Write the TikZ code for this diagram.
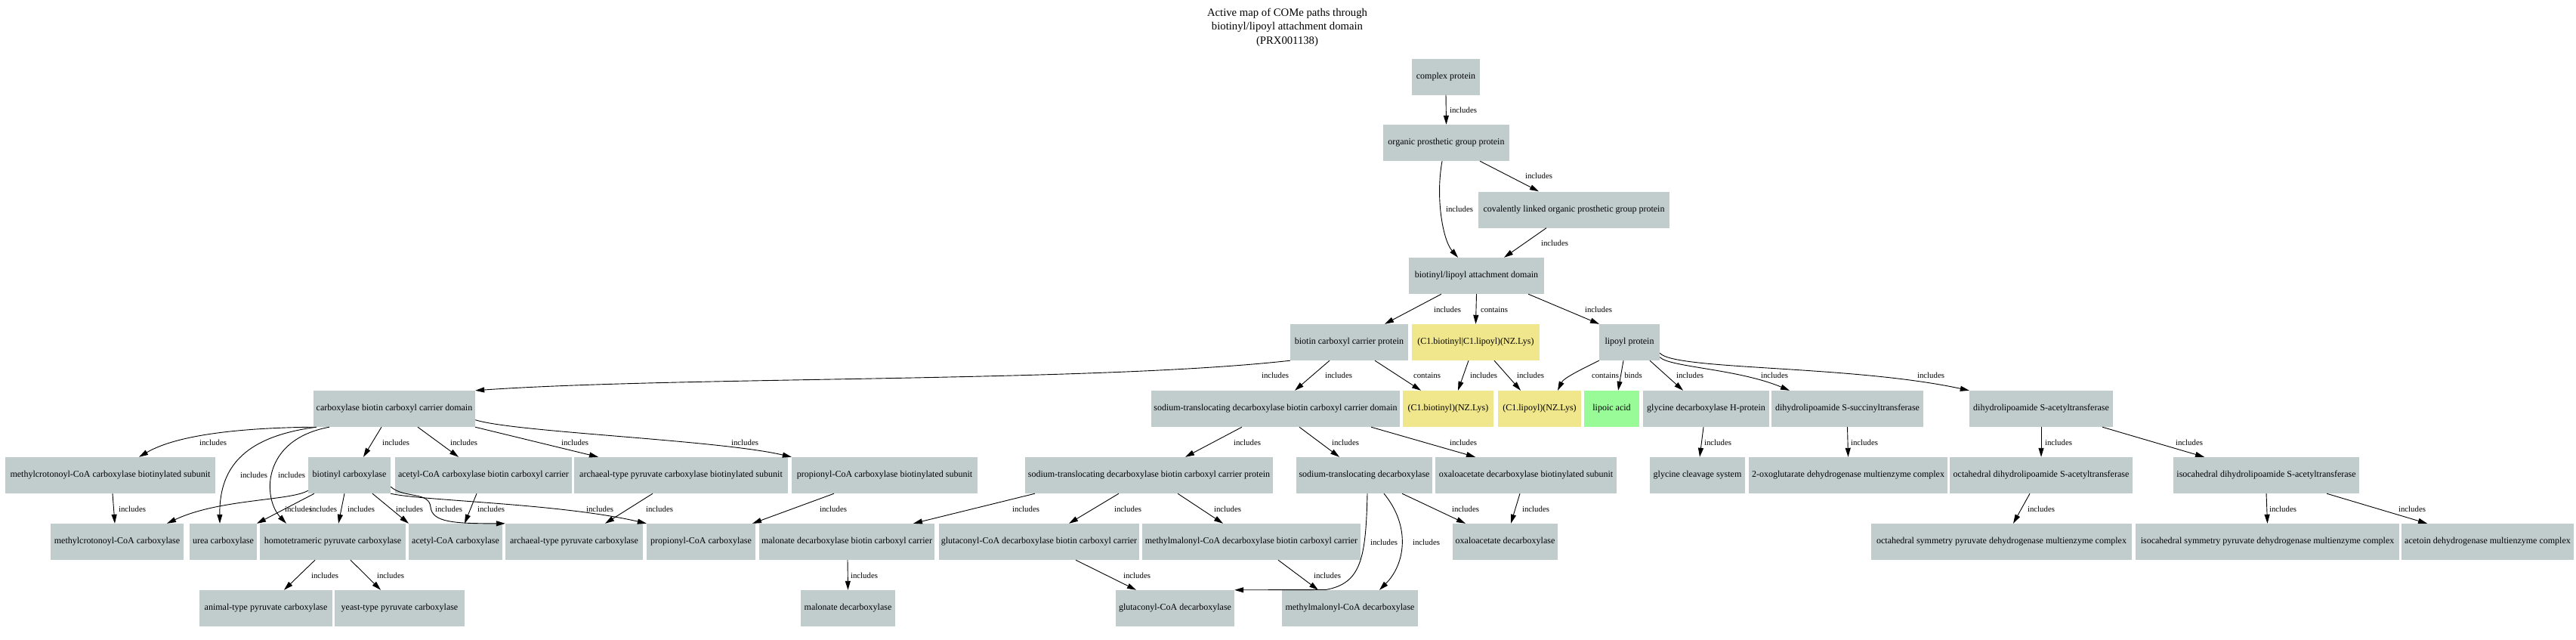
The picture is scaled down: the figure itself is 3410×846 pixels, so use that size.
\documentclass[tikz,border=0pt]{standalone}
\usepackage{fontspec}
\setmainfont{Liberation Serif}
\usetikzlibrary{arrows.meta}
\definecolor{boxgrey}{HTML}{C1CDCD}
\definecolor{boxkhaki}{HTML}{F0E68C}
\definecolor{boxgreen}{HTML}{98FB98}
\newcounter{labc}
\newcommand\nd[6][boxgrey]{\node[nbox,fill=#1,minimum width=#5pt] (#2) at (#3,#4) {#6};}
\newcommand\ed[7]{%
  \draw[edge] ([xshift=#2pt]#1.south) -- ([xshift=#4pt]#3.north);
  \stepcounter{labc}\node[lab] (lab\arabic{labc}) at (#6,#7) {#5};}
\newcommand\lb[3]{\stepcounter{labc}\node[lab] (lab\arabic{labc}) at (#2,#3) {#1};}
\begin{document}
\begin{tikzpicture}[x=1pt,y=-1pt,
  nbox/.style={draw=none,rectangle,minimum height=48pt,inner xsep=2pt,inner ysep=0pt,font=\fontsize{12}{14}\selectfont},
  edge/.style={draw=black,line width=0.9pt,-{Triangle[length=12pt,width=7pt]}},
  lab/.style={inner sep=0pt,font=\fontsize{10.8}{12}\selectfont},
  ttl/.style={align=center,inner sep=0pt,font=\fontsize{14.7}{18.5}\selectfont}]
\useasboundingbox[fill=white] (0,0) rectangle (3410,846);
\node[ttl] (title) at (1704,36) {Active map of COMe paths through\\biotinyl/lipoyl attachment domain\\(PRX001138)};
% rows 1-4
\nd{cp}{1914}{101.5}{90}{complex protein}
\nd{org}{1914.5}{189}{167}{organic prosthetic group protein}
\nd{cov}{2083.5}{277.5}{253}{covalently linked organic prosthetic group protein}
\nd{bld}{1954.5}{365}{179}{biotinyl/lipoyl attachment domain}
% row 5
\nd{bccp}{1786}{453}{156}{biotin carboxyl carrier protein}
\nd[boxkhaki]{cbl}{1953.5}{453}{169}{(C1.biotinyl|C1.lipoyl)(NZ.Lys)}
\nd{lip}{2157}{453}{80}{lipoyl protein}
% row 6
\nd{cbccd}{522}{541}{214}{carboxylase biotin carboxyl carrier domain}
\nd{sbccd}{1688.5}{541}{329}{sodium-translocating decarboxylase biotin carboxyl carrier domain}
\nd[boxkhaki]{cb}{1917}{541}{120}{(C1.biotinyl)(NZ.Lys)}
\nd[boxkhaki]{cl}{2038}{541}{110}{(C1.lipoyl)(NZ.Lys)}
\nd[boxgreen]{lia}{2133.5}{541}{73}{lipoic acid}
\nd{gh}{2258.5}{541}{167}{glycine decarboxylase H-protein}
\nd{ss}{2445.5}{541}{201}{dihydrolipoamide S-succinyltransferase}
\nd{sa}{2702}{541}{190}{dihydrolipoamide S-acetyltransferase}
% row 7
\nd{mccs}{146}{629}{278}{methylcrotonoyl-CoA carboxylase biotinylated subunit}
\nd{bc}{462.5}{629}{109}{biotinyl carboxylase}
\nd{accb}{640}{629}{234}{acetyl-CoA carboxylase biotin carboxyl carrier}
\nd{archs}{901.5}{629}{283}{archaeal-type pyruvate carboxylase biotinylated subunit}
\nd{props}{1171}{629}{246}{propionyl-CoA carboxylase biotinylated subunit}
\nd{sbccp}{1521}{629}{328}{sodium-translocating decarboxylase biotin carboxyl carrier protein}
\nd{sdec}{1806}{629}{180}{sodium-translocating decarboxylase}
\nd{oxs}{2020}{629}{240}{oxaloacetate decarboxylase biotinylated subunit}
\nd{gcs}{2247}{629}{126}{glycine cleavage system}
\nd{oxo}{2446.5}{629}{263}{2-oxoglutarate dehydrogenase multienzyme complex}
\nd{octd}{2702}{629}{242}{octahedral dihydrolipoamide S-acetyltransferase}
\nd{isod}{3000}{629}{246}{isocahedral dihydrolipoamide S-acetyltransferase}
% row 8
\nd{mcc}{155}{717}{176}{methylcrotonoyl-CoA carboxylase}
\nd{urea}{295.5}{717}{89}{urea carboxylase}
\nd{homo}{440.5}{717}{193}{homotetrameric pyruvate carboxylase}
\nd{acc}{603}{717}{124}{acetyl-CoA carboxylase}
\nd{arch}{760}{717}{182}{archaeal-type pyruvate carboxylase}
\nd{prop}{928}{717}{144}{propionyl-CoA carboxylase}
\nd{maldb}{1121}{717}{232}{malonate decarboxylase biotin carboxyl carrier}
\nd{glutdb}{1375.5}{717}{265}{glutaconyl-CoA decarboxylase biotin carboxyl carrier}
\nd{methdb}{1656.5}{717}{289}{methylmalonyl-CoA decarboxylase biotin carboxyl carrier}
\nd{oxd}{1992.5}{717}{139}{oxaloacetate decarboxylase}
\nd{octs}{2649.5}{717}{345}{octahedral symmetry pyruvate dehydrogenase multienzyme complex}
\nd{isos}{3001.5}{717}{349}{isocahedral symmetry pyruvate dehydrogenase multienzyme complex}
\nd{acet}{3293}{717}{228}{acetoin dehydrogenase multienzyme complex}
% row 9
\nd{anim}{352}{805}{176}{animal-type pyruvate carboxylase}
\nd{yeast}{529}{805}{172}{yeast-type pyruvate carboxylase}
\nd{mald}{1122.5}{805}{125}{malonate decarboxylase}
\nd{glutd}{1555.5}{805}{157}{glutaconyl-CoA decarboxylase}
\nd{methd}{1787}{805}{180}{methylmalonyl-CoA decarboxylase}
% straight edges
\ed{cp}{0}{org}{0}{includes}{1937}{146}
\ed{org}{44.5}{cov}{-46.5}{includes}{2037}{233}
\ed{cov}{-36.5}{bld}{36.5}{includes}{2058}{322}
\ed{bld}{-46.5}{bccp}{47}{includes}{1916}{409.5}
\ed{bld}{0}{cbl}{0}{contains}{1978}{409.5}
\ed{bld}{68.5}{lip}{-40}{includes}{2116}{409.5}
\ed{bccp}{-26}{sbccd}{25.5}{includes}{1772}{497}
\ed{bccp}{34}{cb}{-36}{contains}{1889}{497}
\ed{cbl}{-9.5}{cb}{13}{includes}{1964}{497}
\ed{cbl}{24.5}{cl}{-25}{includes}{2026}{497}
\ed{lip}{-8}{lia}{8.5}{binds}{2162}{497}
\ed{lip}{27}{gh}{-30.5}{includes}{2237}{497}
\ed{cbccd}{-17}{bc}{18.5}{includes}{524}{585.5}
\ed{cbccd}{31}{accb}{-33}{includes}{614}{585.5}
\ed{cbccd}{107}{archs}{-109.5}{includes}{761}{585.5}
\ed{sbccd}{-44.5}{sbccp}{48}{includes}{1651}{585.5}
\ed{sbccd}{31.5}{sdec}{-33}{includes}{1781}{585.5}
\ed{sbccd}{126.5}{oxs}{-67}{includes}{1937}{585.5}
\ed{gh}{-3.5}{gcs}{3}{includes}{2274}{585.5}
\ed{ss}{0}{oxo}{0}{includes}{2468}{585.5}
\ed{sa}{0}{octd}{0}{includes}{2725}{585.5}
\ed{sa}{81}{isod}{-82}{includes}{2898}{585.5}
\ed{mccs}{3}{mcc}{-3}{includes}{175}{673.5}
\ed{bc}{-46.5}{urea}{44.5}{includes}{428}{673.5}
\ed{bc}{-6.5}{homo}{7.5}{includes}{478}{673.5}
\ed{bc}{30.5}{acc}{-62}{includes}{542}{673.5}
\ed{accb}{-9}{acc}{12}{includes}{650}{673.5}
\ed{archs}{-37.5}{arch}{41}{includes}{873}{673.5}
\ed{props}{-67}{prop}{68}{includes}{1103}{673.5}
\ed{sbccp}{-151}{maldb}{88}{includes}{1358}{673.5}
\ed{sbccp}{-40}{glutdb}{39.5}{includes}{1493}{673.5}
\ed{sbccp}{38}{methdb}{-37.5}{includes}{1625}{673.5}
\ed{sdec}{50}{oxd}{-52.5}{includes}{1940}{673.5}
\ed{oxs}{-8}{oxd}{7.5}{includes}{2033}{673.5}
\ed{octd}{-15}{octs}{15.5}{includes}{2702}{673.5}
\ed{isod}{0}{isos}{0}{includes}{3022}{673.5}
\ed{isod}{80}{acet}{-80}{includes}{3193}{673.5}
\ed{homo}{-23.5}{anim}{24}{includes}{430}{761.5}
\ed{homo}{23.5}{yeast}{-25}{includes}{517}{761.5}
\ed{maldb}{1}{mald}{0}{includes}{1144}{761.5}
\ed{glutdb}{48.5}{glutd}{-51.5}{includes}{1505}{761.5}
\ed{methdb}{35.5}{methd}{-42}{includes}{1757}{761.5}
% curved edges
\draw[edge] ([xshift=-5.5pt]org.south) .. controls (1900,262) and (1910,318) .. ([xshift=-24.5pt]bld.north);
\lb{includes}{1932}{277}
\draw[edge] (bccp.south west) .. controls (1450,506) and (900,498) .. (cbccd.north east);
\lb{includes}{1688}{497}
\draw[edge] (lip.south west) .. controls (2095,488) and (2070,500) .. ([xshift=24pt]cl.north);
\lb{contains}{2125}{497}
\draw[edge] ([yshift=4.5pt]lip.south east) .. controls (2210,486) and (2300,488) .. ([xshift=-76.5pt]ss.north);
\lb{includes}{2349}{497}
\draw[edge] ([yshift=10pt]lip.south east) .. controls (2215,490) and (2450,483) .. (sa.north west);
\lb{includes}{2556}{497}
\draw[edge] (cbccd.south west) .. controls (340,566) and (240,572) .. ([xshift=38pt]mccs.north);
\lb{includes}{282}{585.5}
\draw[edge] ([xshift=-103pt]cbccd.south) .. controls (330,577) and (290,613) .. ([xshift=-4.5pt]urea.north);
\lb{includes}{336}{629}
\draw[edge] ([xshift=-86pt]cbccd.south) .. controls (345,582) and (348,660) .. ([xshift=-61.5pt]homo.north);
\lb{includes}{386}{629}
\draw[edge] ([yshift=9.5pt]cbccd.south east) .. controls (680,572) and (950,582) .. (props.north west);
\lb{includes}{986}{585.5}
\draw[edge] ([yshift=4pt]bc.south west) .. controls (385,663) and (290,660) .. ([xshift=66pt]mcc.north);
\lb{includes}{395}{673.5}
\draw[edge] ([yshift=9pt]bc.south east) .. controls (535,660) and (568,650) .. (570,671) .. controls (572,691) and (600,693) .. (arch.north west);
\lb{includes}{594}{673.5}
\draw[edge] (bc.south east) .. controls (560,663) and (740,666) .. (prop.north west);
\lb{includes}{794}{673.5}
\draw[edge] ([xshift=4pt]sdec.south) .. controls (1808,739) and (1802,772) .. (1755,780.5) -- (glutd.north east);
\lb{includes}{1832}{717.5}
\draw[edge] ([xshift=26pt]sdec.south) .. controls (1868,697) and (1860,747) .. ([xshift=39pt]methd.north);
\lb{includes}{1888}{717.5}
\end{tikzpicture}
\end{document}
